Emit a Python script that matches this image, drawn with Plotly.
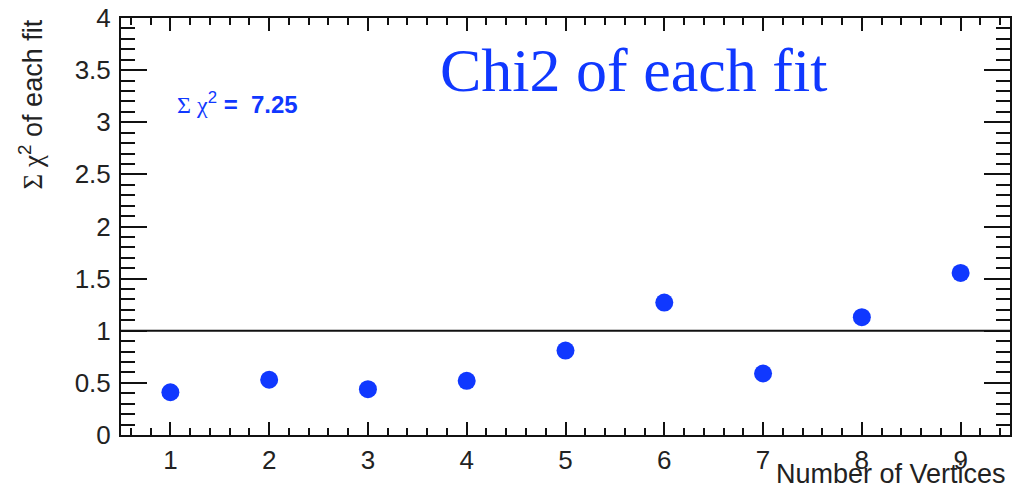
import plotly.graph_objects as go

# Fit results: number of vertices vs. chi2 of each fit
vertices = [1, 2, 3, 4, 5, 6, 7, 8, 9]
chi2_values = [0.41, 0.53, 0.44, 0.52, 0.81, 1.27, 0.59, 1.13, 1.555]
chi2_total = 7.25
reference_level = 1.0

x_range = [0.5, 9.5]
y_range = [0, 4]
y_tick_vals = [0, 0.5, 1, 1.5, 2, 2.5, 3, 3.5, 4]
y_tick_text = ["0", "0.5", "1", "1.5", "2", "2.5", "3", "3.5", "4"]

BLUE = "#1038ff"
AXIS_FONT = "Liberation Sans, Arial, sans-serif"
TEXT_COLOR = "#222222"
LINE_COLOR = "#111111"

fig = go.Figure()

fig.add_trace(go.Scatter(
    x=vertices,
    y=chi2_values,
    mode="markers",
    marker=dict(color=BLUE, size=18, symbol="circle", line=dict(width=0)),
    showlegend=False,
    hoverinfo="x+y",
))

# Horizontal reference line at chi2 = 1
fig.add_shape(
    type="line", xref="paper", yref="y",
    x0=0, x1=1, y0=reference_level, y1=reference_level,
    line=dict(color=LINE_COLOR, width=2),
)

fig.update_layout(
    xaxis=dict(
        range=x_range, tickmode="array", tickvals=vertices,
        ticktext=[str(v) for v in vertices],
        showline=True, linecolor=LINE_COLOR, linewidth=2,
        mirror="allticks", ticks="inside", tickcolor=LINE_COLOR,
        ticklen=13, tickwidth=2, ticklabelstandoff=1,
        showgrid=False, zeroline=False, automargin=False,
        tickfont=dict(family=AXIS_FONT, size=26, color=TEXT_COLOR),
        minor=dict(ticks="inside", dtick=0.2, tick0=0, ticklen=7,
                   tickwidth=2, tickcolor=LINE_COLOR, showgrid=False),
    ),
    yaxis=dict(
        range=y_range, tickmode="array", tickvals=y_tick_vals,
        ticktext=y_tick_text,
        showline=True, linecolor=LINE_COLOR, linewidth=2,
        mirror="allticks", ticks="inside", tickcolor=LINE_COLOR,
        ticklen=26, tickwidth=2, ticklabelstandoff=3,
        showgrid=False, zeroline=False, automargin=False,
        tickfont=dict(family=AXIS_FONT, size=26, color=TEXT_COLOR),
        minor=dict(ticks="inside", dtick=0.1, tick0=0, ticklen=14,
                   tickwidth=2, tickcolor=LINE_COLOR, showgrid=False),
    ),
)

annotations = [
    # Title inside the frame
    dict(text="Chi2 of each fit", xref="paper", yref="paper",
         x=0.577, y=0.876, xanchor="center", yanchor="middle",
         showarrow=False,
         font=dict(family="Liberation Serif, Times New Roman, serif",
                   size=62, color=BLUE)),
    # Total chi2 label
    dict(text=("<span style='font-family:Liberation Serif'>Σ χ</span>"
               "<sup>2</sup><b> =  %.2f</b>" % chi2_total),
         xref="paper", yref="paper", x=0.0607, y=0.796,
         xanchor="left", yanchor="middle", showarrow=False,
         font=dict(family=AXIS_FONT, size=24, color=BLUE)),
    # X axis title, right aligned under the frame
    dict(text="Number of Vertices", xref="paper", yref="paper",
         x=0.9978, y=-0.093, xanchor="right", yanchor="middle",
         showarrow=False,
         font=dict(family=AXIS_FONT, size=27, color=TEXT_COLOR)),
    # Y axis title, rotated, aligned to the top
    dict(text="<span style='font-family:Liberation Serif'>Σ χ</span><sup>2</sup> of each fit",
         xref="paper", yref="paper", x=-0.101, y=1.002,
         xanchor="center", yanchor="top", textangle=-90,
         showarrow=False,
         font=dict(family=AXIS_FONT, size=27, color=TEXT_COLOR)),
]

fig.update_layout(
    width=1026, height=491,
    margin=dict(l=121, r=16, t=18, b=56),
    paper_bgcolor="white", plot_bgcolor="white",
    annotations=annotations,
)

fig.write_html("out.html")
